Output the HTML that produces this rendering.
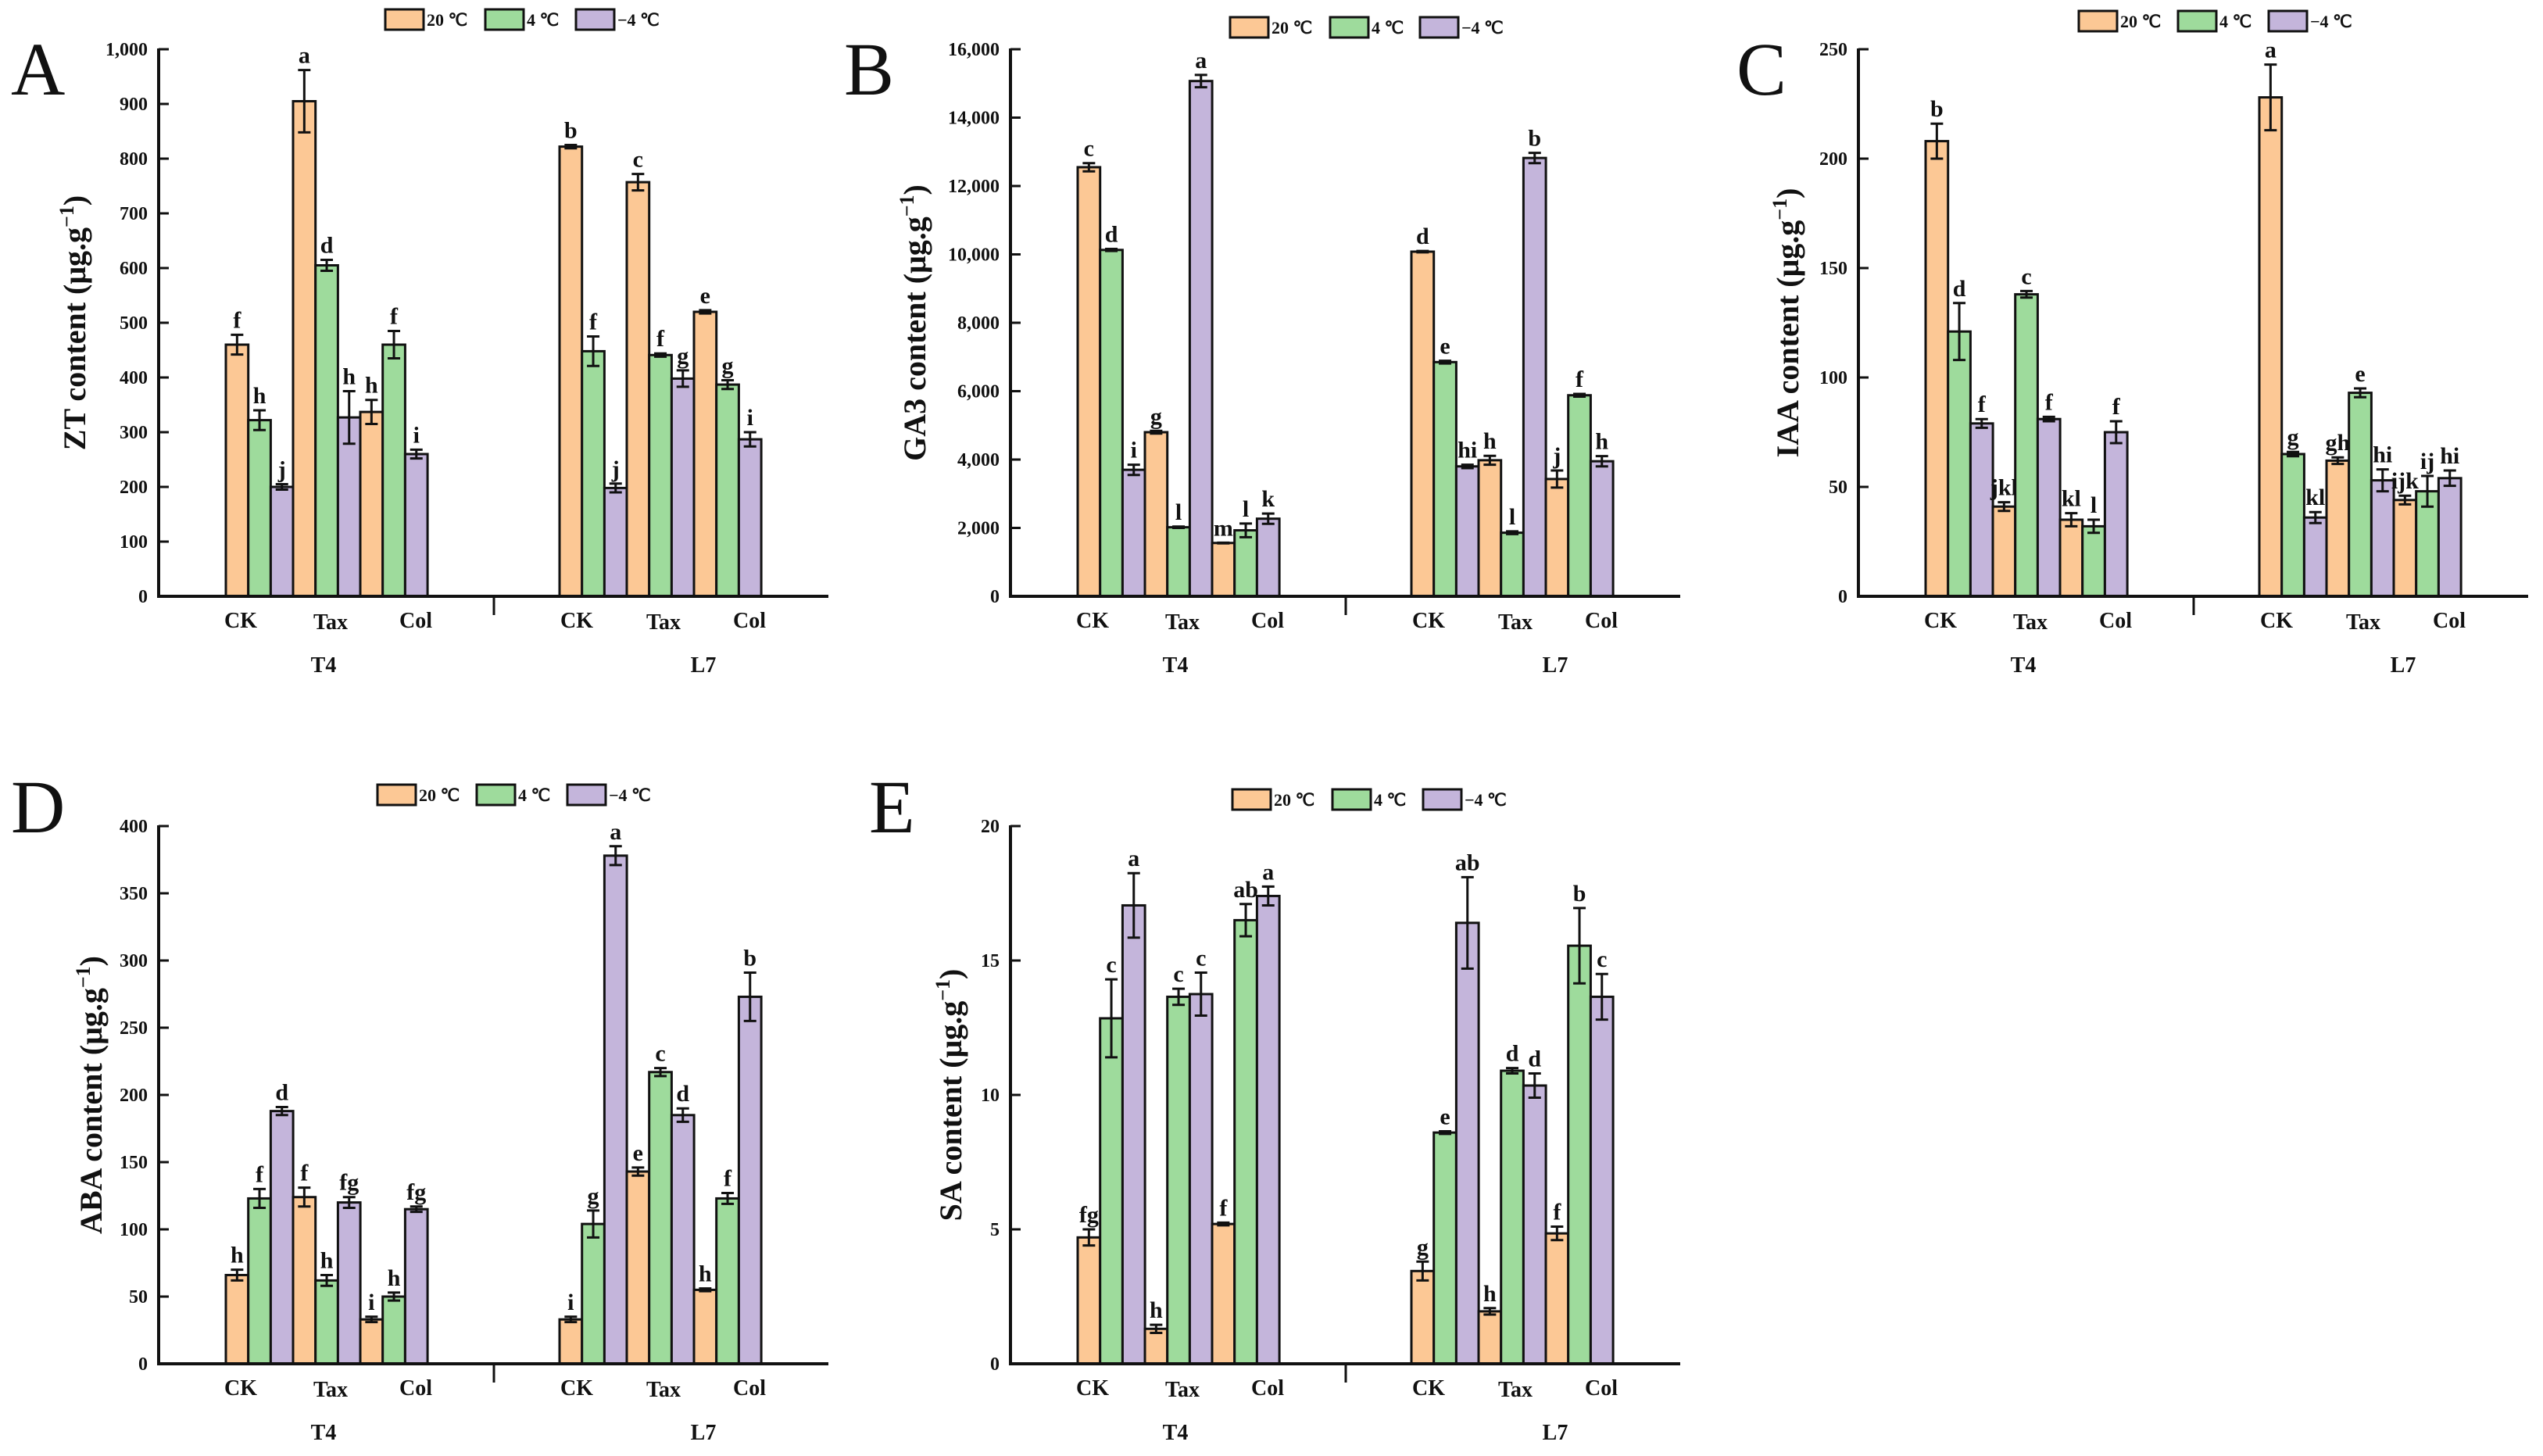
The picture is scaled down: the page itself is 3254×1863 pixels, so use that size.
<!DOCTYPE html>
<html><head><meta charset="utf-8"><style>
html,body{margin:0;padding:0;background:#fff}
svg{display:block}
text{font-family:"Liberation Serif","Times New Roman",serif;font-weight:bold;fill:#111}
</style></head><body>
<svg id="fig" width="3254" height="1863" viewBox="0 0 3254 1863" xmlns="http://www.w3.org/2000/svg"></svg>
<script>
const groups = ["CK","Tax","Col","CK","Tax","Col"];
const seriesNames = ["20 ℃","4 ℃","−4 ℃"];
// ZT
const ztVals = [[460,322,200],[905,605,327],[337,460,260],[822,448,198],[757,441,398],[520,387,287]];
const ztErr = [[18,18,5],[57,10,48],[22,25,8],[3,27,8],[15,3,15],[3,8,13]];
const ztSig = [["f","h","j"],["a","d","h"],["h","f","i"],["b","f","j"],["c","f","g"],["e","g","i"]];
const ztTicks = ["0","100","200","300","400","500","600","700","800","900","1,000"];
// GA3
const gaVals = [[12550,10130,3700],[4800,2020,15070],[1560,1930,2270],[10080,6850,3800],[3980,1860,12820],[3430,5880,3950]];
const gaErr = [[120,30,150],[40,20,180],[10,200,150],[20,40,50],[130,40,150],[250,40,150]];
const gaSig = [["c","d","i"],["g","l","a"],["m","l","k"],["d","e","hi"],["h","l","b"],["j","f","h"]];
const gaTicks = ["0","2,000","4,000","6,000","8,000","10,000","12,000","14,000","16,000"];
// IAA
const iaaVals = [[208,121,79],[41,138,81],[35,32,75],[228,65,36],[62,93,53],[44,48,54]];
const iaaErr = [[8,13,2],[2,1.5,1],[3,3,5],[15,1,2.5],[1.5,2,5],[2,7,3.5]];
const iaaSig = [["b","d","f"],["jkl","c","f"],["kl","l","f"],["a","g","kl"],["gh","e","hi"],["ijk","ij","hi"]];
const iaaTicks = ["0","50","100","150","200","250"];
// ABA
const abaVals = [[66,123,188],[124,62,120],[33,50,115],[33,104,378],[143,217,185],[55,123,273]];
const abaErr = [[4,7,3],[7,4,4],[2,3,2],[2,10,7],[3,3,5],[1,4,18]];
const abaSig = [["h","f","d"],["f","h","fg"],["i","h","fg"],["i","g","a"],["e","c","d"],["h","f","b"]];
const abaTicks = ["0","50","100","150","200","250","300","350","400"];
// SA
const saVals = [[4.7,12.85,17.05],[1.3,13.65,13.75],[5.2,16.5,17.4],[3.45,8.6,16.4],[1.95,10.9,10.35],[4.85,15.55,13.65]];
const saErr = [[0.3,1.45,1.2],[0.15,0.3,0.8],[0.05,0.6,0.35],[0.35,0.05,1.7],[0.12,0.1,0.45],[0.25,1.4,0.85]];
const saSig = [["fg","c","a"],["h","c","c"],["f","ab","a"],["g","e","ab"],["h","d","d"],["f","b","c"]];
const saTicks = ["0","5","10","15","20"];

const colors = ["#fcc895","#9edb9c","#c4b5db"];
const NS = "http://www.w3.org/2000/svg";
const svg = document.getElementById("fig");
function mk(tag, attrs, parent){const e=document.createElementNS(NS,tag);for(const k in attrs)e.setAttribute(k,attrs[k]);(parent||svg).appendChild(e);return e;}

const panels = [
 {id:"zt",letter:"A",ox:0,oy:0,range:700,max:1000,vals:ztVals,err:ztErr,sig:ztSig,ticks:ztTicks,title:"ZT content",tx:95,legX:[493,621,737],legY:25,letX:14,letY:121},
 {id:"ga3",letter:"B",ox:1090,oy:0,range:700,max:16000,vals:gaVals,err:gaErr,sig:gaSig,ticks:gaTicks,title:"GA3 content",tx:1170,legX:[1574,1702,1817],legY:35,letX:1080,letY:121},
 {id:"iaa",letter:"C",ox:2175,oy:0,range:700,max:250,vals:iaaVals,err:iaaErr,sig:iaaSig,ticks:iaaTicks,title:"IAA content",tx:2287,legX:[2660,2787,2903],legY:27,letX:2222,letY:121},
 {id:"aba",letter:"D",ox:0,oy:982,range:688,max:400,vals:abaVals,err:abaErr,sig:abaSig,ticks:abaTicks,title:"ABA content",tx:116,legX:[483,610,726],legY:1017,letX:14,letY:1065},
 {id:"sa",letter:"E",ox:1090,oy:982,range:688,max:20,vals:saVals,err:saErr,sig:saSig,ticks:saTicks,title:"SA content",tx:1216,legX:[1577,1705,1821],legY:1023,letX:1112,letY:1065}
];

panels.forEach(p=>{
  const g = mk("g",{});
  
  
  const axX = 203+p.ox, zeroY = 763+p.oy, endX = 1060+p.ox;
  const yS = v => zeroY - v/p.max*p.range;
  const bw = 28.7;
  const gStart = i => (i<3 ? 289+i*86 : 716+(i-3)*86) + p.ox;
  const L = mk("text",{x:p.letX,y:p.letY,"font-size":96,style:"font-weight:normal"},g); L.textContent=p.letter;
  
  
  p.vals.forEach((grp,gi)=>{
    grp.forEach((v,si)=>{
      const x = gStart(gi)+si*bw;
      const r = mk("rect",{x:x,y:yS(v),width:bw,height:zeroY-yS(v),fill:colors[si],stroke:"#111","stroke-width":3},g);
      
      
      const e = p.err[gi][si], cx = x+bw/2, top=yS(v+e), bot=yS(v-e);
      const eb = mk("path",{d:`M${cx} ${top}V${bot}M${cx-8} ${top}H${cx+8}M${cx-8} ${bot}H${cx+8}`,stroke:"#111","stroke-width":3,fill:"none"},g);
      
      
      const t = mk("text",{x:cx,y:top-9,"text-anchor":"middle","font-size":30},g); t.textContent=p.sig[gi][si];
      
      
    });
  });
  const ya = mk("line",{x1:axX,y1:yS(p.max)-1,x2:axX,y2:zeroY+2,stroke:"#111","stroke-width":4},g);
  
  
  const xa = mk("line",{x1:axX-2,y1:zeroY,x2:endX,y2:zeroY,stroke:"#111","stroke-width":4},g);
  
  
  const sep = mk("line",{x1:632+p.ox,y1:zeroY,x2:632+p.ox,y2:zeroY+24,stroke:"#111","stroke-width":3},g);
  
  
  const n = p.ticks.length-1;
  p.ticks.forEach((lab,i)=>{
    const v = p.max*i/n, y=yS(v);
    mk("line",{x1:axX,y1:y,x2:axX+13,y2:y,stroke:"#111","stroke-width":3},g);
    const t = mk("text",{x:axX-14,y:y+8,"text-anchor":"end","font-size":24},g); t.textContent=lab;
    
    
  });
  const catX=[308,423,532,738,849,959];
  groups.forEach((c,i)=>{
    const t = mk("text",{x:catX[i]+p.ox,y:zeroY+40+(i%3===1?2:0),"text-anchor":"middle","font-size":28},g); t.textContent=c;
    
    
  });
  [["T4",414],["L7",900]].forEach(([s,x])=>{
    const t = mk("text",{x:x+p.ox,y:zeroY+97,"text-anchor":"middle","font-size":28},g); t.textContent=s;
    
    
  });
  const cy = zeroY - p.range/2;
  const yt = mk("text",{x:0,y:0,transform:`translate(${p.tx+14},${cy}) rotate(-90)`,"text-anchor":"middle","font-size":40},g);
  
  
  yt.appendChild(document.createTextNode(p.title+" (μg.g"));
  const sup = mk("tspan",{"font-size":26,dy:-15},yt); sup.textContent="−1";
  const cl = mk("tspan",{dy:15},yt); cl.textContent=")";
  seriesNames.forEach((s,i)=>{
    const lg = mk("g",{},g);
    
    
    mk("rect",{x:p.legX[i],y:p.legY-13,width:49,height:26,fill:colors[i],stroke:"#111","stroke-width":3},lg);
    const t = mk("text",{x:p.legX[i]+53,y:p.legY+8,"font-size":22},lg); t.textContent=s;
  });
});
</script>
</body></html>
